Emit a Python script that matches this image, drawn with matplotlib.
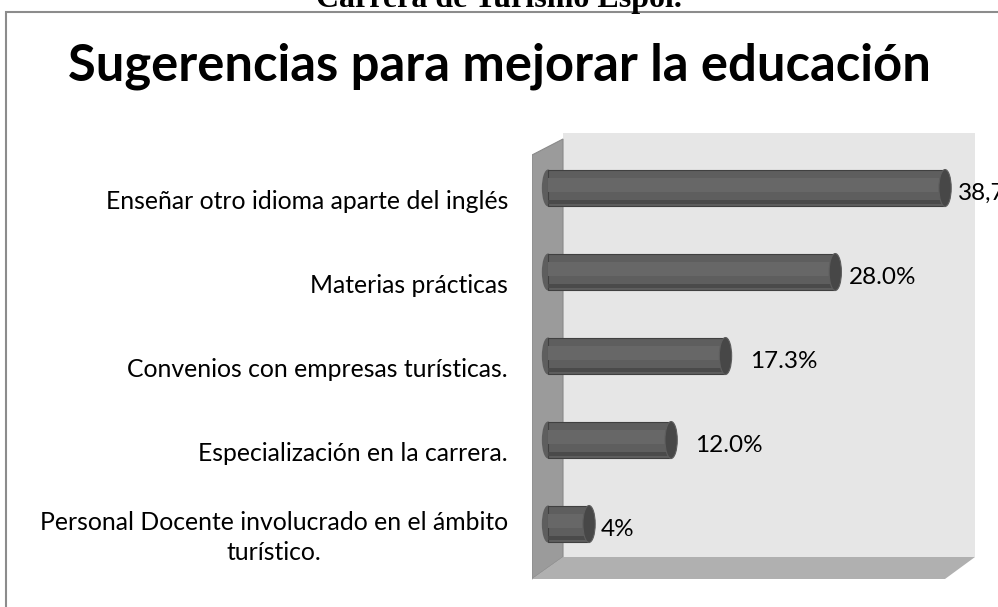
import matplotlib.pyplot as plt
from matplotlib.patches import Polygon, Ellipse, Rectangle

categories = [
    "Enseñar otro idioma aparte del inglés",
    "Materias prácticas",
    "Convenios con empresas turísticas.",
    "Especialización en la carrera.",
    "Personal Docente involucrado en el ámbito\nturístico.",
]
values = [38.7, 28.0, 17.3, 12.0, 4.0]
value_labels = ["38,7%", "28.0%", "17.3%", "12.0%", "4%"]
label_gap = [0.7, 0.7, 1.8, 1.7, 0.5]

W, H = 998, 607
fig = plt.figure(figsize=(W / 100, H / 100), dpi=100)
fig.patch.set_facecolor("white")

# outer border of the chart area (runs off the right and bottom edges)
fig.patches.append(Rectangle((6 / W, -0.1), 1.2, 1 - 12 / H + 0.1,
                             transform=fig.transFigure, fill=False,
                             edgecolor="#8c8c8c", linewidth=1.5))

# caption above chart, clipped by the top of the image
fig.text(0.5, 1 - 7 / H, "Carrera de Turismo Espol.", ha="center", va="baseline",
         fontsize=23, fontweight="bold", family="Liberation Serif")

fig.text(0.5, 1 - 66 / H, "Sugerencias para mejorar la educación", ha="center",
         va="center", fontsize=36.5, fontweight="bold", family="Lato")

# plot area in pixels
x0, x1, ytop, ybot = 532, 975, 133, 580
ax = fig.add_axes([x0 / W, 1 - ybot / H, (x1 - x0) / W, (ybot - ytop) / H])
zero_px, per_unit = 548.0, 10.26
row_px, first_row = 84.0, 188.0
ax.set_xlim((x0 - zero_px) / per_unit, (x1 - zero_px) / per_unit)
ax.set_ylim((ybot - first_row) / row_px, (ytop - first_row) / row_px)
ax.axis("off")


def px(x, y):
    return ((x - zero_px) / per_unit, (y - first_row) / row_px)


# 3D walls
ax.add_patch(Polygon([px(563, 133), px(975, 133), px(975, 557), px(563, 557)],
                     closed=True, facecolor="#e6e6e6", edgecolor="none", zorder=0))
ax.add_patch(Polygon([px(532, 155), px(563, 139), px(563, 557), px(532, 579)],
                     closed=True, facecolor="#9b9b9b", edgecolor="#8a8a8a", lw=0.8, zorder=1))
ax.add_patch(Polygon([px(532, 579), px(563, 557), px(975, 557), px(945, 579)],
                     closed=True, facecolor="#b0b0b0", edgecolor="none", zorder=1))

bar_h = 0.44
ys = list(range(len(values)))
ax.barh(ys, values, height=bar_h, left=0, color="#5e5e5e", edgecolor="#404040",
        linewidth=0.8, zorder=3)
ax.barh([y - bar_h * 0.08 for y in ys], values, height=bar_h * 0.4, left=0,
        color="#676767", edgecolor="none", zorder=4)
ax.barh([y + bar_h * 0.38 for y in ys], values, height=bar_h * 0.1, left=0,
        color="#4a4a4a", edgecolor="none", zorder=4)

cap_w = 1.2
for y, v, lab, g in zip(ys, values, value_labels, label_gap):
    ax.add_patch(Ellipse((0, y), cap_w, bar_h, facecolor="#5e5e5e",
                         edgecolor="none", zorder=2))
    ax.add_patch(Ellipse((v, y), cap_w, bar_h, facecolor="#474747",
                         edgecolor="#5e5e5e", lw=0.8, zorder=5))
    ax.text(v + cap_w / 2 + g, y + 0.06, lab, ha="left", va="center", fontsize=17.5,
            family="Lato", clip_on=False, zorder=6)

for y, c in zip(ys, categories):
    ax.text((508 - zero_px) / per_unit, y + 0.16, c, ha="right", va="center",
            multialignment="center", fontsize=17.8, family="Lato",
            linespacing=1.35, clip_on=False)

fig.savefig("out.png", dpi=100)
